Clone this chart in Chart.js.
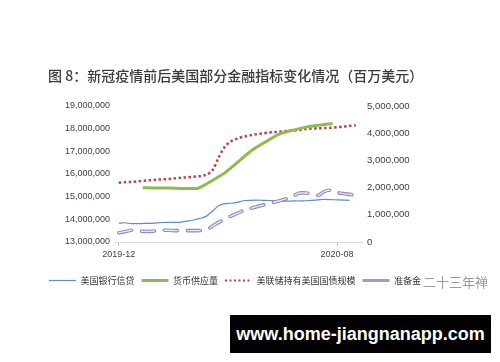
<!DOCTYPE html>
<html>
<head>
<meta charset="utf-8">
<script src="https://cdn.jsdelivr.net/npm/chart.js@4/dist/chart.umd.min.js"></script>
<style>
  html, body { margin: 0; padding: 0; background: #fff; }
  #wrap { position: relative; width: 500px; height: 362px; overflow: hidden; }
  #c { position: absolute; left: 0; top: 0; }
  #title { position: absolute; left: 48px; top: 65px; font: 500 14px "Noto Sans CJK SC", sans-serif; color: #3a3a3a; white-space: nowrap; }
  #wm { position: absolute; left: 423px; top: 272px; font: 13px "Noto Sans CJK SC", sans-serif; color: #9a9a9a; white-space: nowrap; }
  #site { position: absolute; left: 230px; top: 315px; width: 261px; height: 38px; background: #000; color: #fff;
          font: bold 18px "Liberation Sans", Arial, sans-serif; line-height: 38px; text-align: center; }
</style>
</head>
<body>
<div id="wrap">
  <canvas id="c" width="500" height="362"></canvas>
  <div id="title">图 8：新冠疫情前后美国部分金融指标变化情况（百万美元）</div>
  <div id="wm">二十三年禅</div>
  <div id="site">www.home-jiangnanapp.com</div>
</div>
<script>
// x positions are week indices counted from early Dec 2019
const xTickPos = [0, 35];
const xTickLabels = ['2019-12', '2020-08'];

const seriesNames = ['美国银行信贷', '货币供应量', '美联储持有美国国债规模', '准备金'];

// 美国银行信贷 (left axis), weekly
const creditWeeks = [0,1,2,3,4,5,6,7,8,9,10,11,12,13,14,15,16,17,18,19,20,21,22,23,24,25,26,27,28,29,30,31,32,33,34,35,36,37];
const creditValues = [13830000,13850000,13810000,13810000,13820000,13820000,13840000,13860000,13870000,13870000,
  13880000,13920000,13970000,14040000,14130000,14350000,14600000,14690000,14710000,14750000,
  14820000,14840000,14850000,14840000,14830000,14820000,14810000,14800000,14810000,14810000,
  14820000,14840000,14860000,14880000,14870000,14860000,14850000,14840000];

// 货币供应量 (left axis), monthly
const m2Weeks = [3.85, 8.3, 12.7, 17, 21.5, 25.8, 30.2, 34.3];
const m2Values = [15390000, 15380000, 15370000, 16050000, 17080000, 17770000, 18080000, 18230000];

// 美联储持有美国国债规模 (right axis), weekly
const fedWeeks = [0,1,2,3,4,5,6,7,8,9,10,11,12,13,14,15,16,17,18,19,20,21,22,23,24,25,26,27,28,29,30,31,32,33,34,35,36,37,38];
const fedValues = [2180000,2200000,2210000,2230000,2250000,2270000,2290000,2300000,2320000,2340000,
  2360000,2380000,2400000,2420000,2470000,2630000,3100000,3500000,3700000,3800000,
  3870000,3920000,3960000,3990000,4020000,4040000,4060000,4080000,4100000,4120000,
  4150000,4170000,4180000,4190000,4200000,4220000,4240000,4270000,4290000];

// 准备金 (right axis), weekly
const resWeeks = fedWeeks;
const resValues = [340000,380000,430000,410000,390000,390000,410000,430000,430000,420000,
  420000,420000,420000,420000,450000,580000,720000,840000,950000,1050000,
  1160000,1230000,1290000,1350000,1410000,1470000,1530000,1600000,1700000,1800000,
  1800000,1760000,1720000,1860000,1900000,1820000,1780000,1750000,1720000];

const leftTicks = { min: 13000000, max: 19000000, step: 1000000 };
const rightTicks = { min: 0, max: 5000000, step: 500000 };

const pts = (xs, ys) => ys.map((v, i) => ({ x: xs[i], y: v }));
const fmt = v => Number(v).toLocaleString('en-US');

const colors = { credit: '#5b8fc7', m2: '#8dbb4e', fed: '#b8434a', resOuter: '#9385bf', resInner: '#ece8f5' };

new Chart(document.getElementById('c'), {
  type: 'line',
  data: {
    datasets: [
      { label: seriesNames[0], data: pts(creditWeeks, creditValues), yAxisID: 'yL',
        borderColor: colors.credit, borderWidth: 1.2, pointRadius: 0, tension: 0.2, order: 4 },
      { label: seriesNames[1], data: pts(m2Weeks, m2Values), yAxisID: 'yL',
        borderColor: colors.m2, borderWidth: 3, pointRadius: 0, tension: 0.1, order: 1 },
      { label: seriesNames[2], data: pts(fedWeeks, fedValues), yAxisID: 'yR',
        borderColor: colors.fed, borderWidth: 2.5, borderDash: [2.5, 2.5], pointRadius: 0, tension: 0.3, order: 2 },
      { label: seriesNames[3], data: pts(resWeeks, resValues), yAxisID: 'yR',
        borderColor: colors.resOuter, borderWidth: 3.6, borderDash: [13, 10], borderCapStyle: 'round',
        pointRadius: 0, tension: 0.3, order: 3 },
      { label: '_inner', data: pts(resWeeks, resValues), yAxisID: 'yR',
        borderColor: colors.resInner, borderWidth: 1.4, borderDash: [13, 10], borderCapStyle: 'round',
        pointRadius: 0, tension: 0.3, order: 2.5 }
    ]
  },
  options: {
    responsive: false,
    animation: false,
    layout: { padding: { top: 106, left: 0, right: 30, bottom: 67 } },
    plugins: {
      tooltip: { enabled: false },
      legend: {
        position: 'bottom',
        labels: {
          usePointStyle: true,
          pointStyle: 'line',
          pointStyleWidth: 27,
          padding: 7,
          color: '#333',
          font: { family: '"Noto Sans CJK SC", sans-serif', size: 9 },
          filter: item => item.text !== '_inner',
          sort: (a, b) => a.datasetIndex - b.datasetIndex,
          generateLabels: chart => {
            const items = Chart.defaults.plugins.legend.labels.generateLabels(chart);
            items.forEach(it => {
              it.pointStyle = 'line';
              if (it.text === seriesNames[3]) { it.lineDash = []; it.lineWidth = 3; it.strokeStyle = '#a497cc'; }
              if (it.text === seriesNames[2]) { it.lineDash = [2, 2.5]; it.lineWidth = 2; }
            });
            return items;
          }
        }
      }
    },
    scales: {
      x: {
        type: 'linear', min: -0.6, max: 39,
        afterBuildTicks: s => { s.ticks = xTickPos.map(v => ({ value: v })); },
        afterFit: s => { s.height = 27; },
        ticks: { callback: v => xTickLabels[xTickPos.indexOf(v)] || '', color: '#404040',
                 font: { family: '"Liberation Sans", Arial, sans-serif', size: 9 }, padding: 3.5, maxRotation: 0 },
        grid: { drawOnChartArea: false, tickLength: 4, color: '#bfbfbf' },
        border: { color: '#d9d9d9' }
      },
      yL: {
        position: 'left', min: leftTicks.min, max: leftTicks.max,
        afterFit: s => { s.width = 115; },
        ticks: { stepSize: leftTicks.step, callback: fmt, color: '#404040', padding: 5,
                 font: { family: '"Liberation Sans", Arial, sans-serif', size: 9 } },
        grid: { display: false, drawTicks: false },
        border: { display: false }
      },
      yR: {
        position: 'right', min: rightTicks.min, max: rightTicks.max,
        afterFit: s => { s.width = 108; },
        ticks: { stepSize: rightTicks.step, callback: fmt, color: '#404040', padding: 5,
                 font: { family: '"Liberation Sans", Arial, sans-serif', size: 9.6 } },
        grid: { display: false, drawTicks: false },
        border: { display: false }
      }
    }
  }
});
</script>
</body>
</html>
